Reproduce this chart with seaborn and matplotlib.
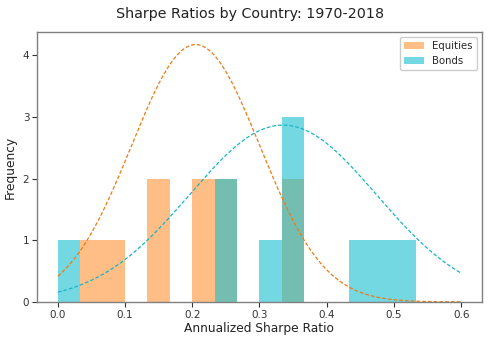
import numpy as np
import pandas as pd
import matplotlib
matplotlib.use("Agg")
import matplotlib.pyplot as plt
import seaborn as sns

# Histogram bins (width 1/30) and counts
bin_edges = [i / 30 for i in range(17)]
equity_counts = [0, 1, 1, 0, 2, 0, 2, 2, 0, 0, 2, 0, 0, 0, 0, 0]
bond_counts = [1, 0, 0, 0, 0, 0, 0, 2, 0, 1, 3, 0, 0, 1, 1, 1]

# Normal fit parameters for the dashed curves
equity_mean, equity_std = 0.205, 0.0955
bond_mean, bond_std = 0.335, 0.139

series = ["Equities", "Bonds"]
bar_colors = {"Equities": "#ff7f0e", "Bonds": "#17becf"}
bar_alpha = {"Equities": 0.5, "Bonds": 0.6}

centers = [(bin_edges[i] + bin_edges[i + 1]) / 2 for i in range(len(bin_edges) - 1)]
df = pd.DataFrame({
    "x": centers * 2,
    "w": equity_counts + bond_counts,
    "series": ["Equities"] * len(centers) + ["Bonds"] * len(centers),
})

sns.set_style("white")
fig = plt.figure(figsize=(5, 3.45), dpi=100)
ax = fig.add_axes([0.074, 0.125, 0.89, 0.782])

for s in series:
    sub = df[df["series"] == s]
    sns.histplot(data=sub, x="x", weights="w", bins=bin_edges, ax=ax,
                 color=bar_colors[s], alpha=bar_alpha[s], linewidth=0,
                 label=s, stat="count")

xs = np.linspace(0, 0.6, 300)
def pdf(x, m, s):
    return np.exp(-0.5 * ((x - m) / s) ** 2) / (s * np.sqrt(2 * np.pi))

sns.lineplot(x=xs, y=pdf(xs, equity_mean, equity_std), ax=ax,
             color="#f07a12", linestyle=(0, (3, 1.6)), linewidth=0.9)
sns.lineplot(x=xs, y=pdf(xs, bond_mean, bond_std), ax=ax,
             color="#17b5c5", linestyle=(0, (3, 1.6)), linewidth=0.9)

ax.set_xlim(-0.031, 0.631)
ax.set_ylim(0, 4.38)
ax.set_xticks([0.0, 0.1, 0.2, 0.3, 0.4, 0.5, 0.6])
ax.set_xticklabels(["0.0", "0.1", "0.2", "0.3", "0.4", "0.5", "0.6"])
ax.set_yticks([0, 1, 2, 3, 4])
ax.tick_params(axis="both", labelsize=7.5, colors="#333333", length=3.5,
               width=0.8, bottom=True, left=True, pad=2)
for sp in ax.spines.values():
    sp.set_color("#808080")
    sp.set_linewidth(1.0)

ax.set_xlabel("Annualized Sharpe Ratio", fontsize=8.8, color="#222222",
              labelpad=2)
ax.set_ylabel("Frequency", fontsize=8.8, color="#222222", labelpad=4)
fig.suptitle("Sharpe Ratios by Country: 1970-2018", fontsize=10.3,
             color="#222222", y=0.98)

handles, labels = ax.get_legend_handles_labels()
leg = ax.legend(handles[:2], labels[:2], loc="upper right", fontsize=7.3,
                frameon=True, framealpha=1, edgecolor="#cccccc")

fig.savefig("out.png", dpi=100)
